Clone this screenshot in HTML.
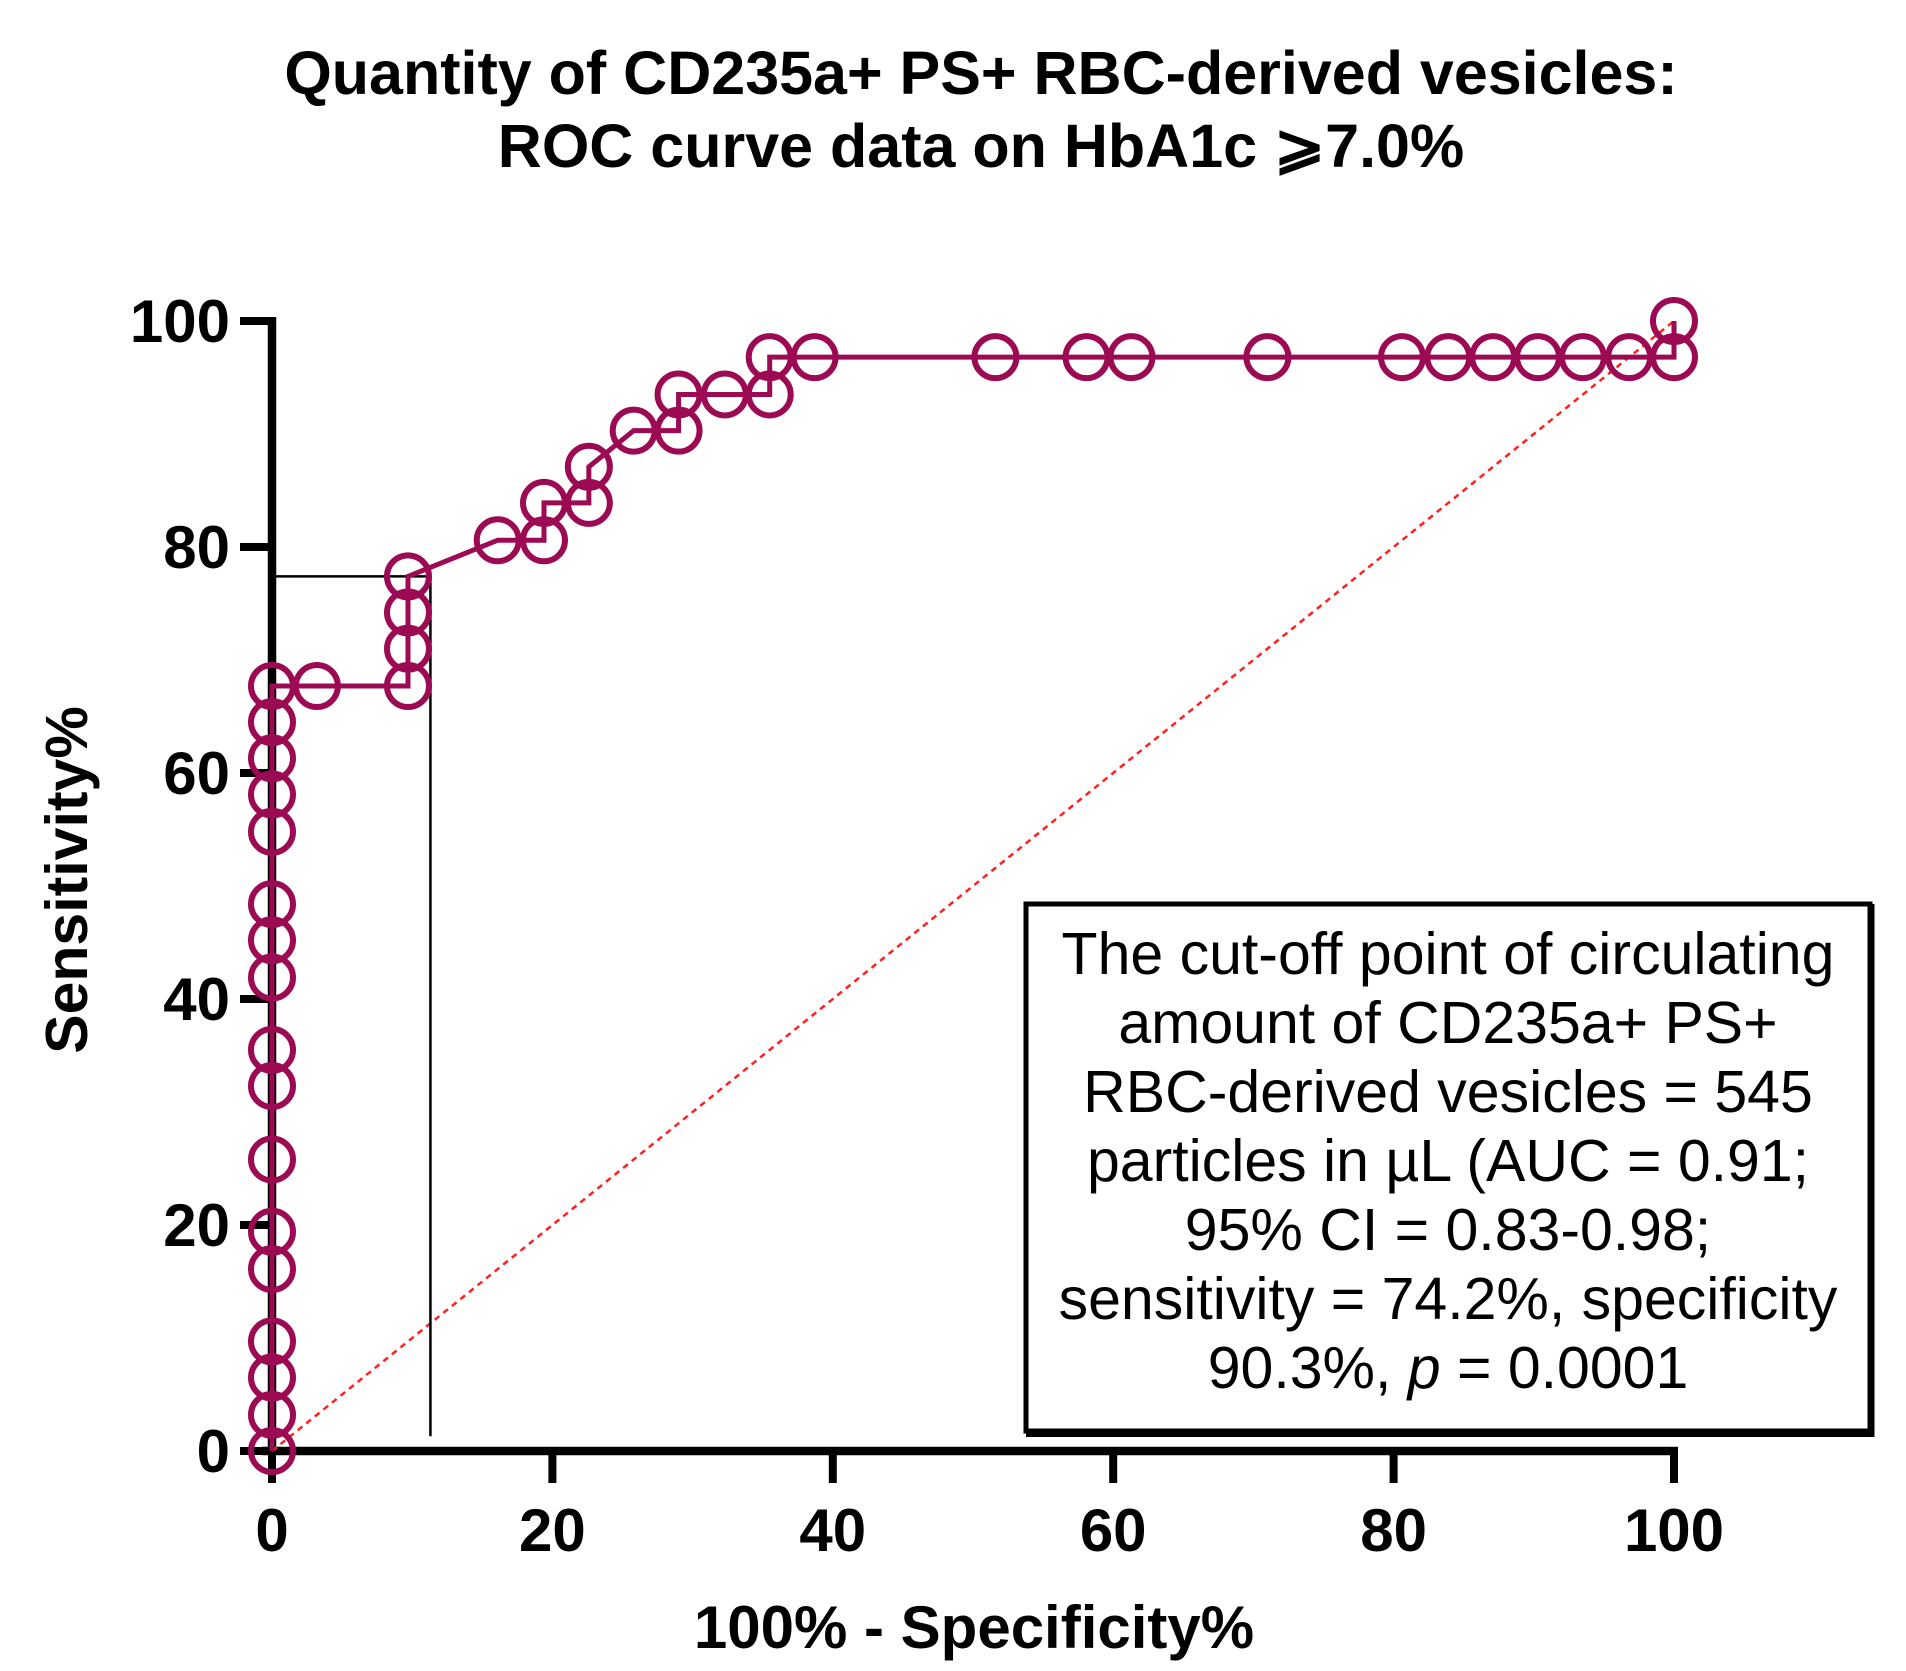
<!DOCTYPE html>
<html><head><meta charset="utf-8"><style>
html,body{margin:0;padding:0;background:#fff;}
svg{display:block;font-family:"Liberation Sans",Arial,sans-serif;}
</style></head><body>
<svg id="chart" width="1906" height="1671" viewBox="0 0 1906 1671">
<g font-weight="bold" font-size="61" text-anchor="middle" fill="#000">
<text x="981" y="94">Quantity of CD235a+ PS+ RBC-derived vesicles:</text>
<text x="981" y="167">ROC curve data on HbA1c ⩾7.0%</text>
</g>
<text x="0" y="0" transform="translate(87,880) rotate(-90)" text-anchor="middle" font-weight="bold" font-size="59">Sensitivity%</text>
<text x="974" y="1648" text-anchor="middle" font-weight="bold" font-size="60">100% - Specificity%</text>
<g id="axes"></g>
<g id="plot"></g>
<g>
<rect x="1026" y="904" width="844" height="527" fill="#fff" stroke="#000" stroke-width="5"/>
<line x1="1026" y1="1433" x2="1872" y2="1433" stroke="#000" stroke-width="8"/>
<line x1="1871" y1="904" x2="1871" y2="1437" stroke="#000" stroke-width="7"/>
<g font-size="59" text-anchor="middle" fill="#000">
<text x="1448" y="974">The cut-off point of circulating</text>
<text x="1448" y="1043">amount of CD235a+ PS+</text>
<text x="1448" y="1112">RBC-derived vesicles = 545</text>
<text x="1448" y="1181">particles in µL  (AUC = 0.91;</text>
<text x="1448" y="1250">95% CI = 0.83-0.98;</text>
<text x="1448" y="1319">sensitivity = 74.2%, specificity</text>
<text x="1448" y="1388">90.3%, <tspan font-style="italic">p</tspan> = 0.0001</text>
</g>
</g>
</svg>
<script>
const xTicks = [0, 20, 40, 60, 80, 100];
const yTicks = [0, 20, 40, 60, 80, 100];
const fprValues = [0,0,0,0,0,0,0,0,0,0,0,0,0,0,0,0,0,3.2,9.7,9.7,9.7,9.7,16.1,19.4,19.4,22.6,22.6,25.8,29.0,29.0,32.3,35.5,35.5,38.7,51.6,58.1,61.3,71.0,80.6,83.9,87.1,90.3,93.5,96.8,100,100];
const tprValues = [0,3.2,6.5,9.7,16.1,19.4,25.8,32.3,35.5,41.9,45.2,48.4,54.8,58.1,61.3,64.5,67.7,67.7,67.7,71.0,74.2,77.4,80.6,80.6,83.9,83.9,87.1,90.3,90.3,93.5,93.5,93.5,96.8,96.8,96.8,96.8,96.8,96.8,96.8,96.8,96.8,96.8,96.8,96.8,96.8,100];
const cutoffPoint = [11.3, 77.4];

const X0=272, X1=1674, Y0=1451, Y1=321;
const sx = v => X0 + (X1-X0)*v/100;
const sy = v => Y0 - (Y0-Y1)*v/100;
const NS="http://www.w3.org/2000/svg";
function mk(tag, attrs, parent){const e=document.createElementNS(NS,tag);for(const k in attrs)e.setAttribute(k,attrs[k]);parent.appendChild(e);return e;}
const axes=document.getElementById('axes'), plot=document.getElementById('plot');

let d=mk('line',{x1:sx(0),y1:sy(0),x2:sx(100),y2:sy(100),stroke:'#ff2020','stroke-width':2.5,'stroke-dasharray':'6,5'},plot);



let ch=mk('line',{x1:sx(0),y1:sy(cutoffPoint[1]),x2:sx(cutoffPoint[0]),y2:sy(cutoffPoint[1]),stroke:'#000','stroke-width':2.5},plot);


let cv=mk('line',{x1:sx(cutoffPoint[0]),y1:sy(cutoffPoint[1]),x2:sx(cutoffPoint[0]),y2:sy(1.3),stroke:'#000','stroke-width':2.5},plot);



let ya=mk('line',{x1:X0,y1:Y1-4,x2:X0,y2:Y0+4,stroke:'#000','stroke-width':8.5},axes);


let xa=mk('line',{x1:X0-10,y1:Y0,x2:X1+4,y2:Y0,stroke:'#000','stroke-width':8.5},axes);


yTicks.forEach(v=>{
  let t=mk('line',{x1:X0-32,y1:sy(v),x2:X0,y2:sy(v),stroke:'#000','stroke-width':8},axes);
  
  
  let l=mk('text',{x:X0-42,y:sy(v)+21,'text-anchor':'end','font-weight':'bold','font-size':60},axes);
  l.textContent=v;
  
  
});
xTicks.forEach(v=>{
  let t=mk('line',{x1:sx(v),y1:Y0,x2:sx(v),y2:Y0+32,stroke:'#000','stroke-width':8},axes);
  
  
  let l=mk('text',{x:sx(v),y:Y0+100,'text-anchor':'middle','font-weight':'bold','font-size':60},axes);
  l.textContent=v;
  
  
});

let pts=fprValues.map((x,i)=>sx(x)+','+sy(tprValues[i])).join(' ');
let pl=mk('polyline',{points:pts,fill:'none',stroke:'#9b0a52','stroke-width':5},plot);


fprValues.forEach((x,i)=>{
  let c=mk('circle',{cx:sx(x),cy:sy(tprValues[i]),r:21,fill:'none',stroke:'#9b0a52','stroke-width':6},plot);
  
  
});
</script>
</body></html>
